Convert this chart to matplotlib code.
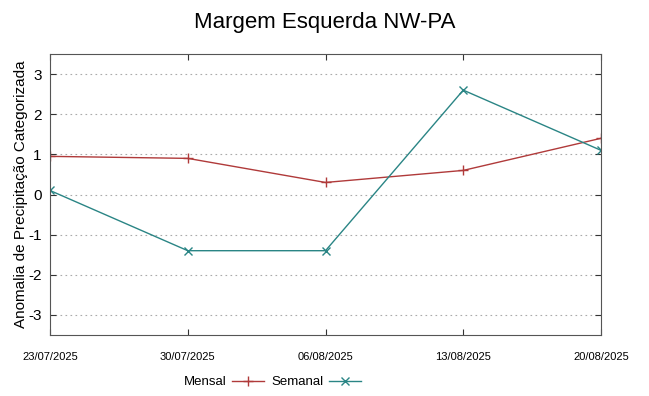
import matplotlib
matplotlib.use('Agg')
import matplotlib.pyplot as plt

plt.rcParams['font.family'] = ['Liberation Sans', 'DejaVu Sans']

# dados
datas = ['23/07/2025', '30/07/2025', '06/08/2025', '13/08/2025', '20/08/2025']
mensal = [0.95, 0.9, 0.3, 0.6, 1.4]
semanal = [0.1, -1.4, -1.4, 2.6, 1.1]
yticks = [-3, -2, -1, 0, 1, 2, 3]

fig = plt.figure(figsize=(6.49, 3.96), dpi=100)
ax = fig.add_axes([50/649, 61/396, 551/649, 281/396])

x = list(range(len(datas)))
ax.plot(x, mensal, color='#b03a3a', lw=1.0, marker='+', ms=7, mew=1.0, label='Mensal')
ax.plot(x, semanal, color='#2a8585', lw=1.0, marker='x', ms=6, mew=1.0, label='Semanal')

ax.set_xlim(0, len(datas) - 1)
ax.set_ylim(-3.5, 3.5)
ax.set_yticks(yticks)
ax.set_yticklabels([str(v) for v in yticks], fontsize=11)
ax.set_xticks(x)
ax.set_xticklabels(datas, fontsize=8)
ax.tick_params(direction='in', top=True, right=True, length=4, color='#333333', pad=6)
ax.tick_params(axis='x', pad=12)
ax.grid(axis='y', linestyle=(0, (1.5, 3)), color='#aaaaaa', lw=0.8)
for s in ax.spines.values():
    s.set_color('#555555')

ax.set_ylabel('Anomalia de Precipitação Categorizada', fontsize=11, labelpad=0)
fig.suptitle('Margem Esquerda NW-PA', fontsize=16, y=0.97)

ax.legend(loc='center left', bbox_to_anchor=(184/649, 14/396), bbox_transform=fig.transFigure,
          ncol=2, frameon=False, markerfirst=False, fontsize=9.5, handlelength=2.4,
          columnspacing=0.6, handletextpad=0.4, borderaxespad=0, borderpad=0)

fig.savefig('out.png', dpi=100)
